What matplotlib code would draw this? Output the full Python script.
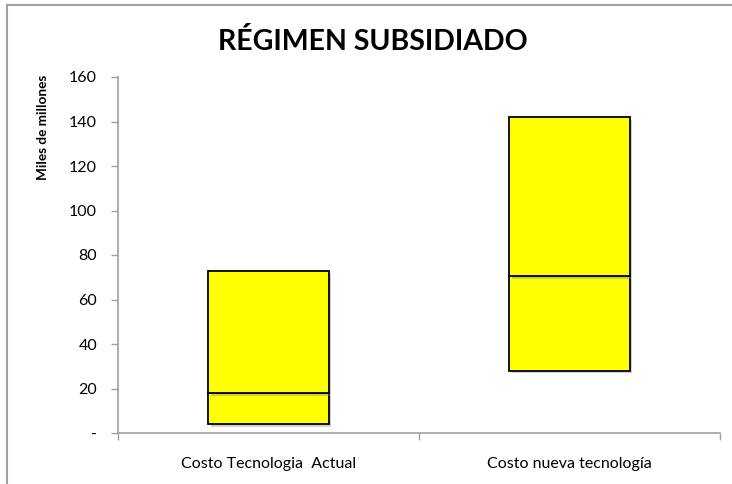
import numpy as np
import matplotlib.pyplot as plt
import matplotlib.patheffects as pe
from matplotlib.lines import Line2D

categories = ['Costo Tecnologia  Actual', 'Costo nueva tecnología']
low = [4, 28]
mid = [18, 70.5]
high = [73, 142]
yticks = [0, 20, 40, 60, 80, 100, 120, 140, 160]
ytick_labels = ['-', '20', '40', '60', '80', '100', '120', '140', '160']

plt.rcParams['font.family'] = ['Lato', 'DejaVu Sans']

fig = plt.figure(figsize=(7.32, 4.84), dpi=100)
ax = fig.add_axes([118/732, 1 - 433/484, (720 - 118)/732, (433 - 77)/484])

x = np.arange(len(categories))
shadow = [pe.SimplePatchShadow(offset=(2, -2), alpha=0.35, shadow_rgbFace='gray'), pe.Normal()]

# lower and upper boxes
lower = ax.bar(x, np.array(mid) - np.array(low), bottom=low, width=0.4,
               color='#ffff00', edgecolor='black', linewidth=1.3)
upper = ax.bar(x, np.array(high) - np.array(mid), bottom=mid, width=0.4,
               color='#ffff00', edgecolor='black', linewidth=1.3)
for b in list(lower) + list(upper):
    b.set_path_effects(shadow)

ax.set_xlim(-0.5, 1.5)
ax.set_ylim(0, 160)
ax.set_yticks(yticks)
ax.set_yticklabels(ytick_labels, fontsize=11.5)
ax.set_xticks(x)
ax.set_xticklabels(categories, fontsize=11.5)
ax.set_xticks([-0.5, 0.5, 1.5], minor=True)
ax.tick_params(axis='x', which='major', length=0, pad=17)
ax.tick_params(axis='x', which='minor', length=5, color='#a0a0a0', width=1)
ax.tick_params(axis='y', length=5, color='#a0a0a0', width=1, pad=10)

for s in ['top', 'right']:
    ax.spines[s].set_visible(False)
for s in ['left', 'bottom']:
    ax.spines[s].set_color('#a0a0a0')
    ax.spines[s].set_linewidth(1.2)

fig.text(373/732, 1 - 42/484, 'RÉGIMEN SUBSIDIADO', ha='center', va='center',
         fontsize=20.5, fontweight='bold')
fig.text(43/732, 1 - 127/484, 'Miles de millones', rotation=90, ha='center',
         va='center', fontsize=9.8, fontweight='bold')

# chart frame (left and top edges only visible)
fx, fy = 7/732, 1 - 5/484
fig.add_artist(Line2D([fx, fx], [0, fy], transform=fig.transFigure, color='#a0a0a0', lw=1.5))
fig.add_artist(Line2D([fx, 1], [fy, fy], transform=fig.transFigure, color='#a0a0a0', lw=1.5))

fig.savefig('out.png', dpi=100)
